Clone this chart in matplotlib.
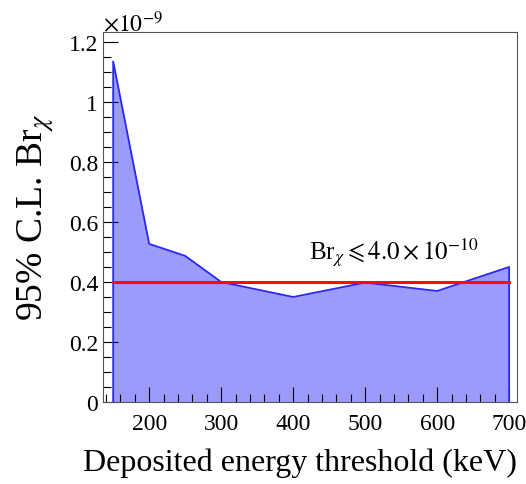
import numpy as np
import matplotlib.pyplot as plt
from matplotlib.ticker import MultipleLocator

# thresholds (keV) and 95% CL limit (x1e-9)
threshold = np.array([150, 200, 250, 300, 400, 500, 600, 700])
limit = np.array([1.135, 0.527, 0.487, 0.40, 0.35, 0.398, 0.37, 0.45])
best_limit = 0.40

plt.rcParams['font.family'] = ['Liberation Serif', 'DejaVu Serif']
plt.rcParams['mathtext.fontset'] = 'stix'

fig = plt.figure(figsize=(5.26, 4.85), dpi=100)
ax = fig.add_axes([0.196, 0.169, 0.787, 0.763])

ax.fill_between(threshold, 0, limit, color='#9b9bfb', lw=0)
ax.plot(np.r_[threshold[0], threshold, threshold[-1]], np.r_[0, limit, 0],
        color='#2828f0', lw=1.3)
ax.plot([threshold[0], threshold[-1]], [best_limit, best_limit], color='#ff0a0a', lw=2.2)

ax.set_xlim(136, 711)
ax.set_ylim(0, 1.233)
ax.xaxis.set_major_locator(MultipleLocator(100))
ax.xaxis.set_minor_locator(MultipleLocator(20))
ax.yaxis.set_minor_locator(MultipleLocator(0.05))
ax.set_yticks([0, 0.2, 0.4, 0.6, 0.8, 1.0, 1.2])
ax.set_yticklabels(['0', '0.2', '0.4', '0.6', '0.8', '1', '1.2'])
ax.tick_params(which='both', direction='in', top=False, right=False, labelsize=17)
ax.tick_params(axis='x', pad=8)
ax.tick_params(which='major', length=11, width=0.8)
ax.tick_params(which='minor', length=5.5, width=0.8)
for s in ax.spines.values():
    s.set_color('#555555')

# axis titles placed in figure coordinates
fig.text(0.570, 0.045, 'Deposited energy threshold (keV)', fontsize=23,
         ha='center', va='center')
fig.text(0.068, 0.552, r'95% C.L. Br$_\chi$', fontsize=27, rotation=90,
         ha='center', va='center')
ax.text(0.0, 1.005, r'$\times10^{-9}$', transform=ax.transAxes, fontsize=17, va='baseline')
ax.text(540, 0.475, r'Br$_\chi \leqslant 4.0 \times 10^{-10}$', fontsize=18, ha='center', va='baseline')

fig.savefig('out.png', dpi=100)
